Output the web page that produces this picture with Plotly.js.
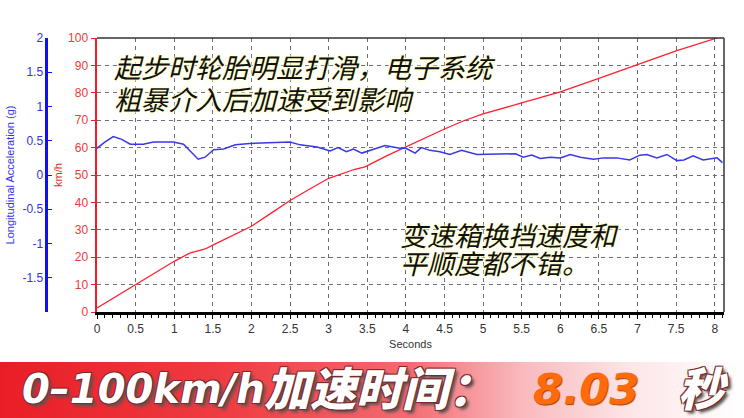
<!DOCTYPE html>
<html>
<head>
<meta charset="utf-8">
<script src="https://cdn.plot.ly/plotly-3.0.1.min.js"></script>
<style>
  html, body { margin: 0; padding: 0; background: #fff; }
  #myPlot { width: 744px; height: 418px; }
</style>
</head>
<body>
<div id="myPlot"></div>
<script>

/// speed curve (km/h)
var speedTime = [0, 0.25, 0.5, 0.75, 1.0, 1.2, 1.3, 1.4, 1.5, 1.75, 2.0, 2.25, 2.5, 2.75, 3.0, 3.34, 3.47, 3.75, 4.0, 4.25, 4.5, 4.75, 5.0, 5.5, 6.0, 6.5, 7.0, 7.5, 8.03]
var speedKmh = [1.5, 5.7, 10, 14.3, 18.5, 21.5, 22.3, 23, 24.4, 28, 31.3, 36, 40.7, 44.8, 48.8, 52.1, 53, 57, 60.3, 63.5, 66.8, 69.8, 72.3, 76.3, 80.3, 85.3, 90.3, 95.3, 100]

/// longitudinal acceleration (g)
var accelTime = [0, 0.1, 0.21, 0.32, 0.43, 0.6, 0.73, 0.99, 1.12, 1.2, 1.31, 1.4, 1.51, 1.64, 1.79, 1.98, 2.28, 2.5, 2.63, 2.85, 3.02, 3.12, 3.23, 3.32, 3.43, 3.58, 3.73, 3.92, 4.0, 4.12, 4.2, 4.31, 4.44, 4.57, 4.72, 4.92, 5.13, 5.31, 5.42, 5.52, 5.63, 5.74, 5.87, 6.0, 6.13, 6.26, 6.43, 6.56, 6.73, 6.9, 7.03, 7.12, 7.25, 7.38, 7.51, 7.6, 7.72, 7.85, 8.03, 8.1]
var accelG = [0.39, 0.48, 0.56, 0.52, 0.45, 0.45, 0.48, 0.48, 0.45, 0.36, 0.23, 0.26, 0.37, 0.38, 0.44, 0.46, 0.47, 0.48, 0.44, 0.41, 0.35, 0.40, 0.34, 0.38, 0.32, 0.38, 0.43, 0.39, 0.39, 0.32, 0.40, 0.36, 0.34, 0.30, 0.36, 0.30, 0.30, 0.31, 0.31, 0.26, 0.29, 0.24, 0.26, 0.25, 0.30, 0.26, 0.23, 0.25, 0.25, 0.22, 0.29, 0.30, 0.25, 0.30, 0.21, 0.22, 0.28, 0.22, 0.25, 0.18]

/// tick labels of the acceleration axis (no label at -2)
var accelTickVals = [-1.5, -1, -0.5, 0, 0.5, 1, 1.5, 2]
var accelTickText = ['-1.5', '-1', '-0.5', '0', '0.5', '1', '1.5', '2']

/// texts
var noteTop = ['起步时轮胎明显打滑，电子系统', '粗暴介入后加速受到影响']
var noteBottom = ['变速箱换挡速度和', '平顺度都不错。']
var bannerLead = '0–100km/h'
var bannerCjk = '加速时间：'
var bannerValue = '8.03'
var bannerUnit = '秒'

var RED = '#f01c2a'
var BLUE = '#3333e6'

let speedTrace = {
    x: speedTime,
    y: speedKmh,
    mode: 'lines',
    type: 'scatter',
    yaxis: 'y',
    line: {color: '#ff1f2f', width: 1.3},
    hoverinfo: 'skip'
};

let accelTrace = {
    x: accelTime,
    y: accelG,
    mode: 'lines',
    type: 'scatter',
    yaxis: 'y2',
    line: {color: '#3838e8', width: 1.5},
    hoverinfo: 'skip'
};

// gradient strip behind the bottom headline
var bannerSvg = '<svg xmlns="http://www.w3.org/2000/svg" width="744" height="56">' +
    '<defs><linearGradient id="g" x1="0" y1="0" x2="1" y2="0">' +
    '<stop offset="0" stop-color="#ea1d25"/>' +
    '<stop offset="0.3" stop-color="#ee3c42"/>' +
    '<stop offset="0.55" stop-color="#f36a70"/>' +
    '<stop offset="0.7" stop-color="#f9b9bd"/>' +
    '<stop offset="0.85" stop-color="#fde6e8"/>' +
    '<stop offset="1" stop-color="#ffffff"/>' +
    '</linearGradient></defs>' +
    '<rect width="744" height="56" fill="url(#g)"/></svg>';

// pixel helpers for the paper space (margin l=5, t=38, plot 719 x 274)
function px(x) { return (x - 5) / 719; }
function py(y) { return (312 - y) / 274; }

var glow = '0 0 3px #ffffc8, 0 0 3px #ffffc8, 0 0 4px #ffffd8';
var whiteEdge = '1px 1px 0 #7a2a2a, -1px -1px 0 #7a2a2a, 1px -1px 0 #7a2a2a, -1px 1px 0 #7a2a2a, 3px 3px 3px #555';

// one annotation per line, so the tight line spacing of the picture is kept
function noteLine(text, x, y) {
    return {
        text: text, x: x, y: y, xref: 'x', yref: 'y',
        xanchor: 'left', yanchor: 'middle', showarrow: false,
        font: {family: '"Noto Sans CJK SC", sans-serif', size: 27, color: '#111', style: 'italic', shadow: glow}
    };
}

function bannerText(text, x, y, size, color, family, weight, shadow) {
    return {
        text: text, x: px(x), y: py(y), xref: 'paper', yref: 'paper',
        xanchor: 'left', yanchor: 'middle', showarrow: false,
        font: {family: family, size: size, color: color, weight: weight, style: 'italic', shadow: shadow}
    };
}

let layout = {
    width: 744,
    height: 418,
    margin: {l: 5, r: 20, t: 38, b: 106},
    paper_bgcolor: '#fff',
    plot_bgcolor: '#fff',
    showlegend: false,
    font: {family: '"Liberation Sans", Arial, sans-serif', size: 12},
    xaxis: {
        domain: [0.128, 1],
        range: [0, 8.12],
        dtick: 0.5,
        tick0: 0,
        showgrid: true,
        gridcolor: '#6e6e6e',
        griddash: '4px,4px',
        gridwidth: 1,
        zeroline: false,
        showline: true,
        linecolor: '#000',
        linewidth: 2.5,
        ticks: 'outside',
        ticklen: 4,
        tickcolor: '#000',
        minor: {dtick: 0.1, ticks: 'outside', ticklen: 3, tickcolor: '#000', showgrid: false},
        tickfont: {size: 12, color: '#333'},
        automargin: false,
        title: {text: 'Seconds', font: {size: 11, color: '#333'}, standoff: 6}
    },
    yaxis: {
        range: [0, 100],
        dtick: 10,
        showgrid: true,
        gridcolor: '#6e6e6e',
        griddash: '4px,4px',
        gridwidth: 1,
        zeroline: false,
        showline: true,
        linecolor: RED,
        linewidth: 2.5,
        ticks: 'outside',
        ticklen: 4,
        tickcolor: RED,
        tickfont: {size: 12, color: '#ee3a3a'},
        automargin: false,
        title: {text: 'km/h', font: {size: 11, color: RED}, standoff: 4}
    },
    yaxis2: {
        overlaying: 'y',
        side: 'left',
        anchor: 'free',
        position: 0.0577,
        range: [-2, 2],
        tickvals: accelTickVals,
        ticktext: accelTickText,
        showgrid: false,
        zeroline: false,
        showline: true,
        linecolor: '#1010f0',
        linewidth: 3,
        ticks: 'inside',
        ticklen: 4,
        tickcolor: '#1010f0',
        tickfont: {size: 12, color: BLUE},
        automargin: false,
        title: {text: 'Longitudinal Acceleration (g)', font: {size: 11, color: BLUE}, standoff: 4}
    },
    shapes: [
        {type: 'line', xref: 'x domain', yref: 'y domain', x0: 0, x1: 1, y0: 1, y1: 1, line: {color: '#333', width: 1.5}},
        {type: 'line', xref: 'x domain', yref: 'y domain', x0: 1, x1: 1, y0: 0, y1: 1, line: {color: '#333', width: 1.5}}
    ],
    images: [{
        source: 'data:image/svg+xml;utf8,' + encodeURIComponent(bannerSvg),
        xref: 'paper', yref: 'paper',
        x: px(0), y: py(362),
        sizex: 744 / 719, sizey: 56 / 274,
        xanchor: 'left', yanchor: 'top',
        sizing: 'stretch',
        layer: 'below'
    }],
    annotations: [
        noteLine(noteTop[0], 0.2, 89.5),
        noteLine(noteTop[1], 0.2, 78),
        noteLine(noteBottom[0], 3.9, 28.2),
        noteLine(noteBottom[1], 3.9, 18.1),
        bannerText(bannerLead, 20, 389, 40, '#fff', '"DejaVu Sans", sans-serif', 'bold', whiteEdge),
        bannerText(bannerCjk, 262, 386, 46, '#fff', '"Noto Sans CJK SC", sans-serif', 900, whiteEdge),
        bannerText(bannerValue, 531, 389, 43, '#ff6a0c', '"DejaVu Sans", sans-serif', 'bold', '1px 1px 1px #a04000'),
        bannerText(bannerUnit, 676, 386, 46, '#fff', '"Noto Sans CJK SC", sans-serif', 900, whiteEdge)
    ]
};

Plotly.newPlot('myPlot', [speedTrace, accelTrace], layout, {displayModeBar: false, staticPlot: true});
</script>
</body>
</html>
